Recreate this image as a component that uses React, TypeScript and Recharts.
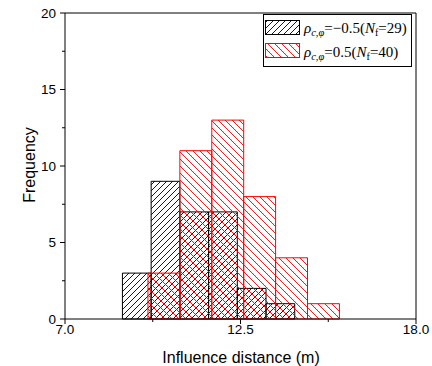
import { ComposedChart, XAxis, YAxis, ReferenceArea, ReferenceLine } from 'recharts';

// histogram bins (lower edges) and counts
const negBinStarts = [8.8, 9.7, 10.6, 11.5, 12.4, 13.3];
const negCounts = [3, 9, 7, 7, 2, 1];
const negBinWidth = 0.9;

const posBinStarts = [9.6, 10.6, 11.6, 12.6, 13.6, 14.6];
const posCounts = [3, 11, 13, 8, 4, 1];
const posBinWidth = 1.0;

const xTicks = [7, 9.75, 12.5, 15.25, 18];
const xMajor = [7, 12.5, 18];
const yTicks = [0, 2.5, 5, 7.5, 10, 12.5, 15, 17.5, 20];

const W = 432;
const H = 366;
const AXIS_FONT = 'Arial, "Liberation Sans", sans-serif';
const SERIF = '"Times New Roman", "Liberation Serif", serif';

const negBins = negBinStarts.map((s, i) => ({ x1: s, x2: s + negBinWidth, count: negCounts[i] }));
const posBins = posBinStarts.map((s, i) => ({ x1: s, x2: s + posBinWidth, count: posCounts[i] }));

function XTick(props: any) {
  const { x, y, payload } = props;
  const major = xMajor.includes(payload.value);
  return (
    <g>
      <line x1={x} y1={y} x2={x} y2={y + (major ? 5 : 3)} stroke="#000" strokeWidth={1} />
      {major && (
        <text x={x} y={y + 15} textAnchor="middle" fontSize={13.5} fontFamily={AXIS_FONT} fill="#000">
          {payload.value.toFixed(1)}
        </text>
      )}
    </g>
  );
}

function YTick(props: any) {
  const { x, y, payload } = props;
  const major = payload.value % 5 === 0;
  return (
    <g>
      <line x1={x} y1={y} x2={x - (major ? 5 : 3)} y2={y} stroke="#000" strokeWidth={1} />
      {major && (
        <text x={x - 9} y={y + 4.5} textAnchor="end" fontSize={13.5} fontFamily={AXIS_FONT} fill="#000">
          {payload.value}
        </text>
      )}
    </g>
  );
}

function LegendLabel({ x, y, n, rho }: { x: number; y: number; n: number; rho: string }) {
  return (
    <text x={x} y={y} fontSize={15} fontFamily={SERIF} fill="#000">
      <tspan fontStyle="italic">ρ</tspan>
      <tspan fontStyle="italic" fontSize={10.5} dy={3}>c,φ</tspan>
      <tspan dy={-3}>={rho}(</tspan>
      <tspan fontStyle="italic">N</tspan>
      <tspan fontSize={10} dy={3}>f</tspan>
      <tspan dy={-3}>={n})</tspan>
    </text>
  );
}

export default function App() {
  return (
    <div style={{ position: 'absolute', left: 0, top: 0, width: W, height: H }}>
      <svg width={0} height={0} style={{ position: 'absolute' }}>
        <defs>
          <pattern id="hatchNeg" width={6} height={6} patternUnits="userSpaceOnUse">
            <path d="M0,6 L6,0 M-1,1 L1,-1 M5,7 L7,5" stroke="#000" strokeWidth={0.9} />
          </pattern>
          <pattern id="hatchPos" width={7} height={7} patternUnits="userSpaceOnUse">
            <path d="M0,0 L7,7 M-1,6 L1,8 M6,-1 L8,1" stroke="#ff0000" strokeWidth={0.9} />
          </pattern>
        </defs>
      </svg>
      <ComposedChart width={W} height={H} margin={{ top: 13, right: 16, bottom: 0, left: 0 }}>
        <XAxis
          type="number"
          dataKey="x"
          domain={[7, 18]}
          ticks={xTicks}
          allowDataOverflow
          height={47}
          tickSize={0}
          tickMargin={0}
          tick={<XTick />}
          stroke="#000"
          interval={0}
        />
        <YAxis
          type="number"
          domain={[0, 20]}
          ticks={yTicks}
          allowDataOverflow
          width={65}
          tickSize={0}
          tickMargin={0}
          tick={<YTick />}
          stroke="#000"
          interval={0}
        />
        {negBins.map((b, i) => (
          <ReferenceArea
            key={'n' + i}
            x1={b.x1}
            x2={b.x2}
            y1={0}
            y2={b.count}
            fill="url(#hatchNeg)"
            fillOpacity={1}
            stroke="#000"
            strokeWidth={1}
            ifOverflow="extendDomain"
          />
        ))}
        {posBins.map((b, i) => (
          <ReferenceArea
            key={'p' + i}
            x1={b.x1}
            x2={b.x2}
            y1={0}
            y2={b.count}
            fill="url(#hatchPos)"
            fillOpacity={1}
            stroke="#ff0000"
            strokeWidth={1}
            ifOverflow="extendDomain"
          />
        ))}
        <ReferenceLine y={20} stroke="#000" strokeWidth={1} />
        <ReferenceLine x={18} stroke="#000" strokeWidth={1} />
      </ComposedChart>
      <svg width={W} height={H} style={{ position: 'absolute', left: 0, top: 0, pointerEvents: 'none' }}>
        <text
          x={35}
          y={165}
          transform="rotate(-90 35 165)"
          textAnchor="middle"
          fontSize={16}
          fontFamily={AXIS_FONT}
          fill="#000"
        >
          Frequency
        </text>
        <text x={241} y={363} textAnchor="middle" fontSize={16} fontFamily={AXIS_FONT} fill="#000">
          Influence distance (m)
        </text>
        <rect x={263.5} y={14.5} width={148} height={52} fill="#fff" stroke="#000" strokeWidth={1} />
        <rect x={265.5} y={20.5} width={34} height={14} fill="url(#hatchNeg)" stroke="#000" strokeWidth={1} />
        <rect x={265.5} y={43.5} width={34} height={14} fill="url(#hatchPos)" stroke="#ff0000" strokeWidth={1} />
        <LegendLabel x={304} y={33} rho="−0.5" n={29} />
        <LegendLabel x={304} y={57} rho="0.5" n={40} />
      </svg>
    </div>
  );
}
